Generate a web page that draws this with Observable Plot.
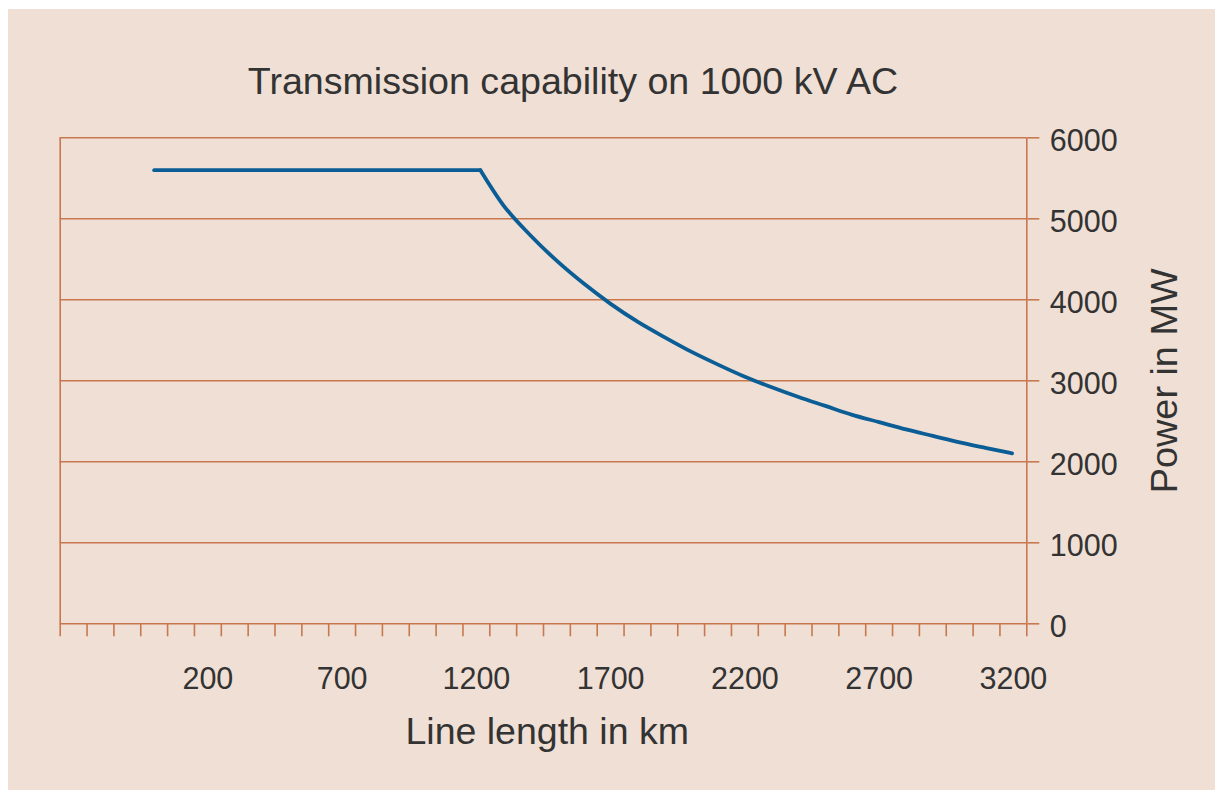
<!DOCTYPE html>
<html>
<head>
<meta charset="utf-8">
<script src="https://cdn.jsdelivr.net/npm/d3@7"></script>
<script src="https://cdn.jsdelivr.net/npm/@observablehq/plot@0.6"></script>
<style>
html, body { margin: 0; padding: 0; background: #ffffff; }
#panel { position: absolute; left: 8px; top: 9px; width: 1207px; height: 781px; background: #f0dfd4; font-family: "Liberation Sans", Arial, sans-serif; }
#title { position: absolute; left: 0; top: 54px; width: 1130px; text-align: center; font-size: 37.6px; line-height: 37px; color: #333333; white-space: nowrap; }
#chart { position: absolute; left: 0; top: 110px; }
</style>
</head>
<body>
<div id="panel">
  <div id="title">Transmission capability on 1000 kV AC</div>
  <div id="chart"></div>
</div>
<script>
// Data
const lineLengthKm = [0, 1215, 1300, 1400, 1500, 1600, 1700, 1800, 1900, 2000, 2100, 2200, 2300, 2400, 2500, 2600, 2700, 2800, 2900, 3000, 3100, 3195];
const powerMW      = [5600, 5600, 5170, 4800, 4480, 4200, 3950, 3730, 3540, 3360, 3200, 3050, 2920, 2800, 2690, 2580, 2490, 2400, 2320, 2240, 2170, 2105];
const xTickLabels = [200, 700, 1200, 1700, 2200, 2700, 3200];
const yTickLabels = [0, 1000, 2000, 3000, 4000, 5000, 6000];
const xTitle = "Line length in km";
const yTitle = "Power in MW";

const xMinorTicks = d3.range(-350, 3251, 100);
const data = lineLengthKm.map((x, i) => ({x, y: powerMW[i]}));
const flatPart = data.slice(0, 2);   // constant-capacity segment
const curvePart = data.slice(1);     // falling segment

const axisColor = "#c8784f";
const textColor = "#333333";
const lineColor = "#0b5d96";
const plain = d => String(d);

const chart = Plot.plot({
  width: 1207,
  height: 671,
  marginLeft: 51.7,
  marginRight: 188.7,
  marginTop: 18.3,
  marginBottom: 166.7,
  style: {background: "transparent", fontFamily: "'Liberation Sans', Arial, sans-serif", overflow: "visible"},
  x: {domain: [-350, 3250]},
  y: {domain: [0, 6000]},
  marks: [
    Plot.gridY({ticks: yTickLabels, stroke: axisColor, strokeOpacity: 1, strokeWidth: 1.6}),
    Plot.ruleX([-350, 3250], {y1: 0, y2: 6000, stroke: axisColor, strokeWidth: 1.6}),
    Plot.axisX({ticks: xMinorTicks, tickSize: 13, tickFormat: () => "", color: axisColor, strokeWidth: 1.6, label: null}),
    Plot.axisX({ticks: xTickLabels, tickSize: 0, tickPadding: 44, tickFormat: plain, fontSize: 30.5, color: textColor, label: null}),
    Plot.axisY({anchor: "right", ticks: yTickLabels, tickSize: 12, tickFormat: () => "", color: axisColor, strokeWidth: 1.6, label: null}),
    Plot.axisY({anchor: "right", ticks: yTickLabels, tickSize: 0, tickPadding: 23, dy: 3.5, tickFormat: plain, fontSize: 30.5, color: textColor, label: null}),
    Plot.line(flatPart, {x: "x", y: "y", stroke: lineColor, strokeWidth: 3.8, strokeLinejoin: "miter"}),
    Plot.line(curvePart, {x: "x", y: "y", curve: "monotone-x", stroke: lineColor, strokeWidth: 3.8}),
    Plot.text([xTitle], {frameAnchor: "bottom", textAnchor: "middle", lineAnchor: "middle", dx: 3.7, dy: 108.2, fontSize: 37.5, fill: textColor}),
    Plot.text([yTitle], {frameAnchor: "right", textAnchor: "middle", lineAnchor: "middle", dx: 137.7, rotate: -90, fontSize: 37.8, fill: textColor})
  ]
});
document.getElementById("chart").appendChild(chart);
</script>
</body>
</html>
